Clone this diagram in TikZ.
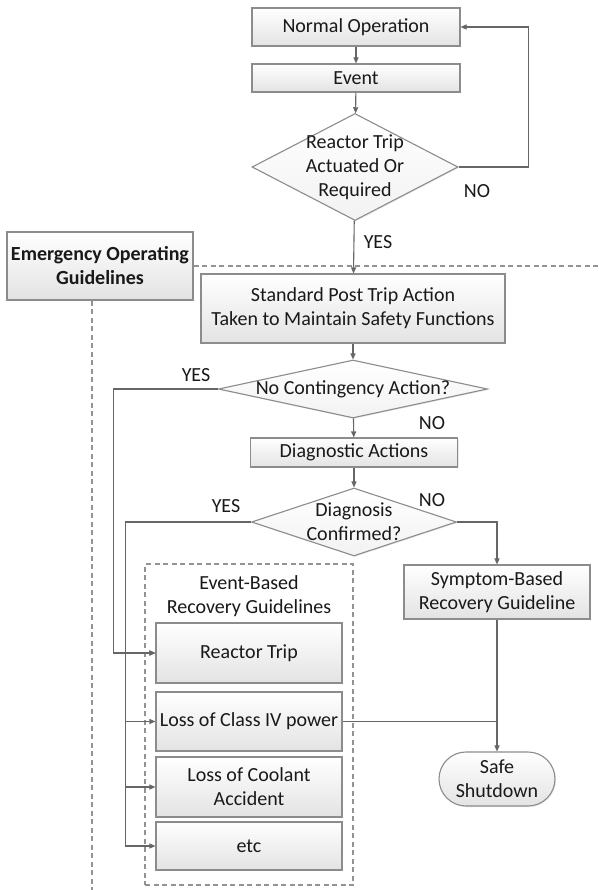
\documentclass[tikz,border=0pt]{standalone}
\usepackage{fontspec}
\setmainfont{Carlito}
\usetikzlibrary{shapes.geometric, shapes.misc, arrows.meta, shadows}

\begin{document}
\begin{tikzpicture}[x=1pt, y=-1pt,
        txt/.style={font=\fontsize{20}{24}\selectfont, text=black!90, align=center},
        box/.style={txt, draw=gray!90, line width=1.1pt, top color=white, bottom color=gray!22, inner sep=2pt,
            drop shadow={shadow xshift=1pt, shadow yshift=-1pt, fill=gray!40, opacity=.4}},
        decision/.style={box, shape=diamond, inner sep=0pt, bottom color=gray!10},
        safebox/.style={box, rounded rectangle},
        group/.style={draw=gray!85, dash pattern=on 5pt off 3.5pt, line width=1.3pt},
        line/.style={draw=gray!80!black, line width=1.1pt},
        arr/.style={line, -{Triangle[length=6pt, width=5pt]}},
        lbl/.style={txt}]
    \path[use as bounding box, fill=white] (0,0) rectangle (598,890);
    \def\bx{249}

    \node[box, minimum width=208, minimum height=38] (normal) at (356,27) {Normal Operation};
    \node[box, minimum width=208, minimum height=28] (event) at (356,78) {Event};
    \node[decision, minimum width=206, minimum height=107,
        label={[txt]center:Reactor Trip\\Actuated Or\\Required}] (trip) at (355,167) {};
    \node[box, minimum width=186, minimum height=68,
        font=\fontsize{20}{24}\selectfont\bfseries] (eog) at (100,266) {Emergency Operating\\Guidelines};
    \node[box, minimum width=304, minimum height=69] (spta) at (353,308.5) {Standard Post Trip Action\\Taken to Maintain Safety Functions};
    \node[decision, minimum width=269, minimum height=58,
        label={[txt]center:No Contingency Action?}] (cont) at (353,389) {};
    \node[box, minimum width=207, minimum height=29] (dact) at (354,452.5) {Diagnostic Actions};
    \node[decision, minimum width=205, minimum height=68,
        label={[txt]center:Diagnosis\\Confirmed?}] (diag) at (354,522) {};
    \node[box, minimum width=186, minimum height=54] (symp) at (497,592) {Symptom-Based\\Recovery Guideline};
    \node[safebox, minimum width=120, minimum height=54] (safe) at (497,779) {Safe\\Shutdown};

    \node[group, minimum width=208, minimum height=321, inner sep=0pt] (ebox) at (\bx,724.5) {};
    \node[txt] (etitle) at (\bx,596) {Event-Based\\Recovery Guidelines};
    \foreach \nm/\yy/\hh/\tx in {reactor/653/60/Reactor Trip, class4/721.5/59/Loss of Class IV power,
            loca/787/60/{Loss of Coolant\\Accident}, etc/846/48/etc} {
        \node[box, minimum width=186, minimum height=\hh] (\nm) at (\bx,\yy) {\tx};
    }

    \coordinate (rgt) at (598,266);
    \coordinate (bot) at (92,890);
    \draw[group] (eog.east) -- (rgt);
    \draw[group] ([xshift=-8pt]eog.south) -- (bot);

    \draw[arr] (normal) -- (event);
    \draw[arr] (event) -- (trip);
    \draw[arr] (trip.east) -- ++(70,0) |- (normal.east);
    \draw[arr] (trip) -- (spta);
    \draw[arr] (spta) -- (cont);
    \draw[arr] (cont.west) -| ([xshift=-42pt]reactor.west) -- (reactor.west);
    \draw[arr] (cont) -- (dact);
    \draw[arr] (dact) -- (diag);
    \foreach \nm in {reactor, class4, loca, etc} {
        \draw[arr] (diag.west) -| ([xshift=-30pt]\nm.west) -- (\nm.west);
    }
    \draw[arr] (diag.east) -| (symp.north);
    \draw[arr] (symp) -- (safe);
    \draw[line] (class4.east) -- (class4.east -| safe.north);

    \node[lbl] (no1) at (477,191) {NO};
    \node[lbl] (yes1) at (378,242) {YES};
    \node[lbl] (yes2) at (196,375) {YES};
    \node[lbl] (no2) at (432,423) {NO};
    \node[lbl] (yes3) at (226,506) {YES};
    \node[lbl] (no3) at (432,500) {NO};
\end{tikzpicture}
\end{document}
